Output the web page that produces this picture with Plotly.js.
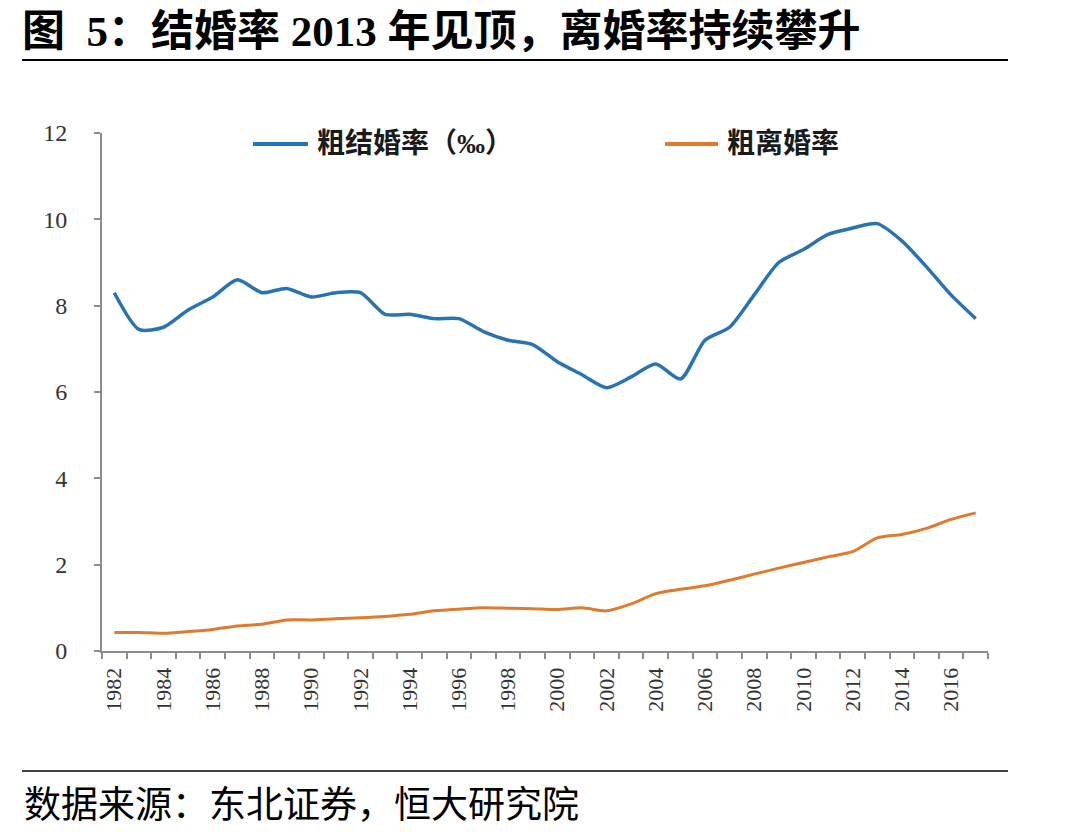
<!DOCTYPE html>
<html>
<head>
<meta charset="utf-8">
<script src="https://cdn.plot.ly/plotly-3.0.1.min.js"></script>
<style>
  html, body { margin: 0; padding: 0; background: #ffffff; }
  #chart { width: 1089px; height: 838px; }
</style>
</head>
<body>
<div id="chart"></div>
<script>
// 年份
const years = [1982, 1983, 1984, 1985, 1986, 1987, 1988, 1989, 1990, 1991,
               1992, 1993, 1994, 1995, 1996, 1997, 1998, 1999, 2000, 2001,
               2002, 2003, 2004, 2005, 2006, 2007, 2008, 2009, 2010, 2011,
               2012, 2013, 2014, 2015, 2016, 2017];

// 粗结婚率（‰）
const marriageRate = [8.3, 7.45, 7.5, 7.9, 8.2, 8.6, 8.3, 8.4, 8.2, 8.3,
                      8.3, 7.8, 7.8, 7.7, 7.7, 7.4, 7.2, 7.1, 6.7, 6.4,
                      6.1, 6.35, 6.65, 6.3, 7.2, 7.5, 8.25, 9.0, 9.3, 9.65,
                      9.8, 9.9, 9.5, 8.9, 8.25, 7.7];

// 粗离婚率
const divorceRate = [0.43, 0.43, 0.41, 0.45, 0.5, 0.58, 0.62, 0.72, 0.72, 0.75,
                     0.77, 0.8, 0.85, 0.93, 0.97, 1.0, 0.99, 0.98, 0.96, 1.0,
                     0.93, 1.09, 1.33, 1.43, 1.51, 1.64, 1.78, 1.92, 2.05, 2.18,
                     2.3, 2.62, 2.7, 2.84, 3.05, 3.2];

// 坐标轴刻度标签
const yearLabels = [1982, 1984, 1986, 1988, 1990, 1992, 1994, 1996, 1998, 2000,
                    2002, 2004, 2006, 2008, 2010, 2012, 2014, 2016];
const rateTicks = [0, 2, 4, 6, 8, 10, 12];

const seriesNames = ['粗结婚率（‰）', '粗离婚率'];
const seriesColors = ['#2873b1', '#e07a2c'];
const titleText = '图&nbsp;&nbsp;5：结婚率 2013 年见顶，离婚率持续攀升';
const sourceText = '数据来源：东北证券，恒大研究院';

const serif = '"Liberation Serif", "Times New Roman", "Noto Sans CJK SC", serif';
const cjk = '"Liberation Serif", "Noto Sans CJK SC", sans-serif';
const axisGrey = '#8c8c8c';

// plot area in pixels: x 102..988, y 133..651
const PX = px => (px - 102) / 886;
const PY = py => (651 - py) / 518;

const traces = [
  {
    x: years, y: marriageRate, name: seriesNames[0],
    type: 'scatter', mode: 'lines', showlegend: false,
    line: { color: seriesColors[0], width: 3.5, shape: 'spline', smoothing: 0.7 }
  },
  {
    x: years, y: divorceRate, name: seriesNames[1],
    type: 'scatter', mode: 'lines', showlegend: false,
    line: { color: seriesColors[1], width: 3, shape: 'spline', smoothing: 0.7 }
  }
];

// legend keys drawn along the top of the plot
const legendKeys = [
  { x0: 253, x1: 308, tx: 315 },
  { x0: 665, x1: 718, tx: 725 }
];
const legendY = 144;

const legendShapes = legendKeys.map((k, i) => ({
  type: 'line', xref: 'paper', yref: 'paper',
  x0: PX(k.x0), x1: PX(k.x1), y0: PY(legendY), y1: PY(legendY),
  line: { color: seriesColors[i], width: 4 }
}));
const legendLabels = legendKeys.map((k, i) => ({
  text: '<b>' + seriesNames[i] + '</b>', xref: 'paper', yref: 'paper',
  x: PX(k.tx), xanchor: 'left', y: PY(legendY), yanchor: 'middle',
  showarrow: false,
  font: { family: cjk, size: 28, color: '#1a1a1a' }
}));

const layout = {
  width: 1089, height: 838,
  paper_bgcolor: '#ffffff', plot_bgcolor: '#ffffff',
  margin: { l: 102, r: 101, t: 133, b: 187 },
  title: {
    text: '<b>' + titleText + '</b>',
    xref: 'container', yref: 'container',
    x: 22 / 1089, xanchor: 'left',
    y: 1 - 31 / 838, yanchor: 'middle',
    font: { family: cjk, size: 43, color: '#000000' }
  },
  showlegend: false,
  xaxis: {
    type: 'linear',
    range: [1981.5, 2017.5],
    tickmode: 'array',
    tickvals: yearLabels,
    ticktext: yearLabels.map(String),
    tickangle: -90,
    ticks: '', ticklen: 0,
    ticklabelstandoff: 6,
    tickfont: { family: serif, size: 22, color: '#333333' },
    showgrid: false, zeroline: false,
    showline: true, linecolor: axisGrey, linewidth: 2,
    minor: { tick0: 1981.5, dtick: 1, ticks: 'outside', ticklen: 6,
             tickwidth: 2, tickcolor: axisGrey, showgrid: false },
    fixedrange: true
  },
  yaxis: {
    range: [0, 12],
    tickmode: 'array',
    tickvals: rateTicks,
    ticks: 'outside', ticklen: 6, tickwidth: 2, tickcolor: axisGrey,
    ticklabelstandoff: 22,
    tickfont: { family: serif, size: 24, color: '#333333' },
    showgrid: false, zeroline: false,
    showline: true, linecolor: axisGrey, linewidth: 2,
    fixedrange: true
  },
  shapes: [
    { type: 'line', xref: 'paper', yref: 'paper',
      x0: PX(22), x1: PX(1008), y0: PY(60), y1: PY(60),
      line: { color: '#000000', width: 2 } },
    { type: 'line', xref: 'paper', yref: 'paper',
      x0: PX(22), x1: PX(1008), y0: PY(771), y1: PY(771),
      line: { color: '#000000', width: 1.5 } }
  ].concat(legendShapes),
  annotations: [
    { text: sourceText, xref: 'paper', yref: 'paper',
      x: PX(22), xanchor: 'left',
      y: PY(805), yanchor: 'middle',
      showarrow: false,
      font: { family: cjk, size: 37, color: '#000000' } }
  ].concat(legendLabels)
};

Plotly.newPlot('chart', traces, layout, { displayModeBar: false, staticPlot: true });
</script>
</body>
</html>
